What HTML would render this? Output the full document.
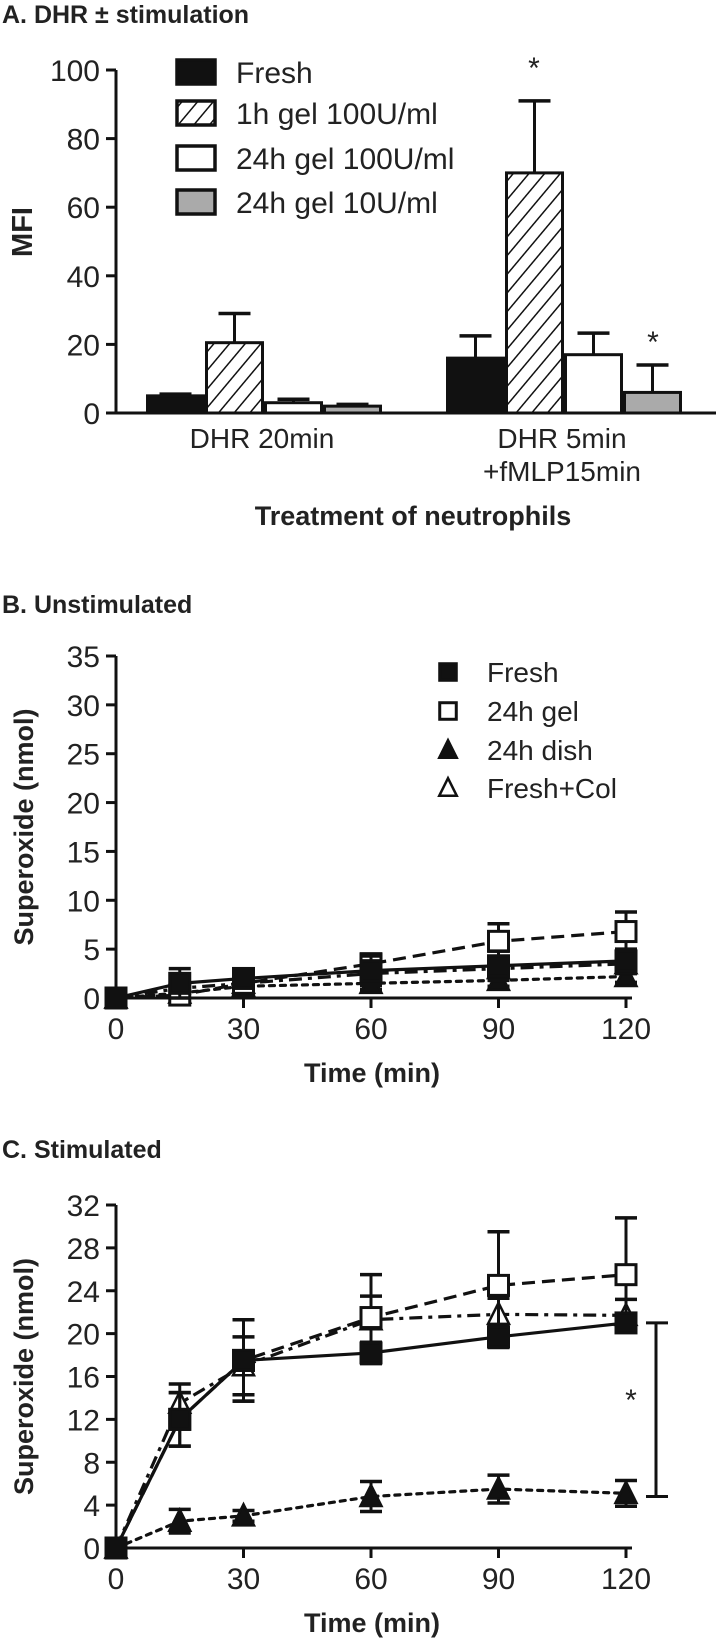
<!DOCTYPE html>
<html><head><meta charset="utf-8"><style>
html,body{margin:0;padding:0;background:#fff}
svg{display:block;font-family:"Liberation Sans",Arial,sans-serif}
</style></head><body>
<svg id="fig" width="716" height="1640" viewBox="0 0 716 1640">
<defs>
<pattern id="hatch" patternUnits="userSpaceOnUse" width="12" height="12" patternTransform="rotate(40)">
<rect width="12" height="12" fill="#fff"/><line x1="0" y1="0" x2="0" y2="12" stroke="#111" stroke-width="3"/>
</pattern>
</defs>
<text x="2" y="23" font-size="25" font-weight="bold" fill="#222">A. DHR ± stimulation</text>
<text x="2" y="613" font-size="25" font-weight="bold" fill="#222">B. Unstimulated</text>
<text x="2" y="1158" font-size="25" font-weight="bold" fill="#222">C. Stimulated</text>
</svg>
<script>
// Panel A data
const aGroups = ["DHR 20min", "DHR 5min|+fMLP15min"];
const aSeries = ["Fresh", "1h gel 100U/ml", "24h gel 100U/ml", "24h gel 10U/ml"];
const aMeans = [[5, 16], [20.5, 70], [3, 17], [2, 6]];
const aErrs = [[0.5, 6.5], [8.5, 21], [1, 6.3], [0.5, 8]];
const aTicks = [0, 20, 40, 60, 80, 100];
// Panel B/C data
const times = [0, 15, 30, 60, 90, 120];
const xTicks = [0, 30, 60, 90, 120];
const lineSeries = ["Fresh", "24h gel", "24h dish", "Fresh+Col"];
const bMeans = [[0, 1.5, 2, 2.8, 3.3, 3.8], [0, 0.3, 1.5, 3.5, 5.8, 6.8], [0, 0.5, 1.2, 1.5, 1.8, 2.2], [0, 1, 1.5, 2.5, 3, 3.5]];
const bErrs = [[0, 1.5, 0.8, 1.5, 1.5, 1.2], [0, 0.6, 0.6, 1, 1.8, 2], [0, 0.5, 0.5, 0.6, 0.6, 0.6], [0, 0.6, 0.6, 0.8, 1, 1]];
const bTicks = [0, 5, 10, 15, 20, 25, 30, 35];
const cMeans = [[0, 12, 17.5, 18.2, 19.7, 21], [0, 12, 17.5, 21.5, 24.5, 25.5], [0, 2.5, 3, 4.8, 5.5, 5.1], [0, 13.5, 17, 21.3, 21.8, 21.7]];
const cErrs = [[0, 2.5, 3.8, 1, 1, 0.6], [0, 2.5, 3.8, 4, 5, 5.3], [0, 1.1, 0.5, 1.4, 1.3, 1.2], [0, 1.8, 2.7, 2.2, 1.5, 1.5]];
const cTicks = [0, 4, 8, 12, 16, 20, 24, 28, 32];

const NS = "http://www.w3.org/2000/svg";
const svg = document.getElementById("fig");
function mk(tag, attrs, parent) {
  const e = document.createElementNS(NS, tag);
  for (const k in attrs) e.setAttribute(k, attrs[k]);
  (parent || svg).appendChild(e);
  return e;
}
function txt(x, y, s, size, extra, parent) {
  const t = mk("text", Object.assign({x: x, y: y, "font-size": size}, extra || {}), parent);
  t.textContent = s;
  return t;
}

// ---------- Panel A ----------
(function () {
  const g = mk("g", {});
  
  
  const x0 = 116, y0 = 413, yTop = 70, yMax = 100;
  const ys = v => y0 - (v / yMax) * (y0 - yTop);
  mk("line", {x1: x0, y1: yTop, x2: x0, y2: y0 + 1.5, stroke: "#111", "stroke-width": 3}, g);
  mk("line", {x1: x0, y1: y0, x2: 716, y2: y0, stroke: "#111", "stroke-width": 3}, g);
  aTicks.forEach(t => {
    mk("line", {x1: x0 - 10, y1: ys(t), x2: x0, y2: ys(t), stroke: "#111", "stroke-width": 3}, g);
    const l = txt(x0 - 16, ys(t) + 11, String(t), 30, {"text-anchor": "end", fill: "#222"}, g);
    
    
  });
  const ya = txt(0, 0, "MFI", 29, {"font-weight": "bold", "text-anchor": "middle", fill: "#222", transform: "translate(32,232) rotate(-90)"}, g);
  
  
  const fills = ["#111", "url(#hatch)", "#fff", "#aaa"];
  const groupStart = [146, 446], bw = 59;
  aGroups.forEach((gn, gi) => {
    aSeries.forEach((sn, si) => {
      const bx = groupStart[gi] + si * bw;
      const v = aMeans[si][gi], e = aErrs[si][gi];
      const ex = bx + bw / 2;
      mk("line", {x1: ex, y1: ys(v), x2: ex, y2: ys(v + e), stroke: "#111", "stroke-width": 3}, g);
      mk("line", {x1: ex - 16, y1: ys(v + e), x2: ex + 16, y2: ys(v + e), stroke: "#111", "stroke-width": 3.5}, g);
      const r = mk("rect", {x: bx + 1.5, y: ys(v), width: bw - 3, height: y0 - ys(v), fill: fills[si], stroke: "#111", "stroke-width": 3}, g);
      
      
    });
    const cx = groupStart[gi] + 2 * bw;
    gn.split("|").forEach((ln, li) => {
      const l = txt(cx - 2, 448 + li * 33, ln, 28, {"text-anchor": "middle", fill: "#222"}, g);
      
      
    });
  });
  const s1 = txt(534, 78, "*", 30, {"text-anchor": "middle", fill: "#222"}, g);
  
  
  const s2 = txt(653, 352, "*", 30, {"text-anchor": "middle", fill: "#222"}, g);
  
  
  const xt = txt(413, 525, "Treatment of neutrophils", 27, {"font-weight": "bold", "text-anchor": "middle", fill: "#222"}, g);
  
  
  const rows = [72, 113, 158, 202];
  aSeries.forEach((sn, si) => {
    const ly = rows[si];
    const lg = mk("g", {}, g);
    
    
    mk("rect", {x: 177, y: ly - 12, width: 38, height: 24, fill: fills[si], stroke: "#111", "stroke-width": 3.5}, lg);
    txt(236, ly + 11, sn, 30, {fill: "#222"}, lg);
  });
})();

// ---------- Line panels ----------
function linePanel(name, means, errs, ticks, yMax, y0, yTop, legend) {
  const g = mk("g", {});
  
  
  const x0 = 116, x1 = 626;
  const xs = t => x0 + t / 120 * (x1 - x0);
  const ys = v => y0 - v / yMax * (y0 - yTop);
  mk("line", {x1: x0, y1: yTop, x2: x0, y2: y0 + 1.5, stroke: "#111", "stroke-width": 3}, g);
  mk("line", {x1: x0, y1: y0, x2: 632, y2: y0, stroke: "#111", "stroke-width": 3}, g);
  ticks.forEach(t => {
    mk("line", {x1: x0 - 10, y1: ys(t), x2: x0, y2: ys(t), stroke: "#111", "stroke-width": 3}, g);
    const l = txt(x0 - 16, ys(t) + 11, String(t), 30, {"text-anchor": "end", fill: "#222"}, g);
    
    
  });
  xTicks.forEach(t => {
    mk("line", {x1: xs(t), y1: y0, x2: xs(t), y2: y0 + 10, stroke: "#111", "stroke-width": 3}, g);
    const l = txt(xs(t), y0 + 41, String(t), 30, {"text-anchor": "middle", fill: "#222"}, g);
    
    
  });
  const xt = txt((x0 + x1) / 2 + 1, y0 + 84, "Time (min)", 27, {"font-weight": "bold", "text-anchor": "middle", fill: "#222"}, g);
  
  
  const ya = txt(0, 0, "Superoxide (nmol)", 27, {"font-weight": "bold", "text-anchor": "middle", fill: "#222", transform: "translate(33," + ((y0 + yTop) / 2) + ") rotate(-90)"}, g);
  
  
  const dashes = ["none", "13,7", "5,6", "13,6,4,6"];
  const order = [2, 3, 1, 0];
  order.forEach(si => {
    const sg = mk("g", {}, g);
    
    
    const pts = times.map((t, i) => xs(t) + "," + ys(means[si][i])).join(" ");
    mk("polyline", {points: pts, fill: "none", stroke: "#111", "stroke-width": 3.2, "stroke-dasharray": dashes[si], "stroke-linecap": si === 2 ? "round" : "butt"}, sg);
    times.forEach((t, i) => {
      const x = xs(t), v = means[si][i], e = errs[si][i];
      if (e > 0) {
        mk("line", {x1: x, y1: ys(v - e), x2: x, y2: ys(v + e), stroke: "#111", "stroke-width": 3}, sg);
        mk("line", {x1: x - 11, y1: ys(v + e), x2: x + 11, y2: ys(v + e), stroke: "#111", "stroke-width": 3.5}, sg);
        mk("line", {x1: x - 11, y1: ys(v - e), x2: x + 11, y2: ys(v - e), stroke: "#111", "stroke-width": 3.5}, sg);
      }
      marker(sg, si, x, ys(v), 1);
    });
  });
  legend && lineSeries.forEach((sn, si) => {
    const ly = legend.rows[si];
    const lg = mk("g", {}, g);
    
    
    marker(lg, si, legend.x, ly, 0.85);
    txt(legend.x + 39, ly + 10, sn, 28, {fill: "#222"}, lg);
  });
  return {g: g, ys: ys, xs: xs};
}
function marker(p, si, x, y, s) {
  const r = 11.5 * s;
  if (si < 2) mk("rect", {x: x - r + 1.5, y: y - r + 1.5, width: 2 * r - 3, height: 2 * r - 3, fill: si === 0 ? "#111" : "#fff", stroke: "#111", "stroke-width": 3}, p);
  else mk("polygon", {points: x + "," + (y - r) + " " + (x - r + 1) + "," + (y + r - 2) + " " + (x + r - 1) + "," + (y + r - 2), fill: si === 2 ? "#111" : "#fff", stroke: "#111", "stroke-width": 2.5}, p);
}
linePanel("line-chart-b", bMeans, bErrs, bTicks, 35, 998, 656, {x: 448, rows: [672, 711, 750, 788]});
const pc = linePanel("line-chart-c", cMeans, cErrs, cTicks, 32, 1548, 1205, null);
const br = mk("path", {d: "M646," + pc.ys(21) + " H656 V" + pc.ys(4.8) + " H646 M656," + pc.ys(21) + " H668 M656," + pc.ys(4.8) + " H668", fill: "none", stroke: "#111", "stroke-width": 3}, pc.g);


const st = txt(631, 1410, "*", 30, {"text-anchor": "middle", fill: "#222"}, pc.g);


</script>
</body></html>
